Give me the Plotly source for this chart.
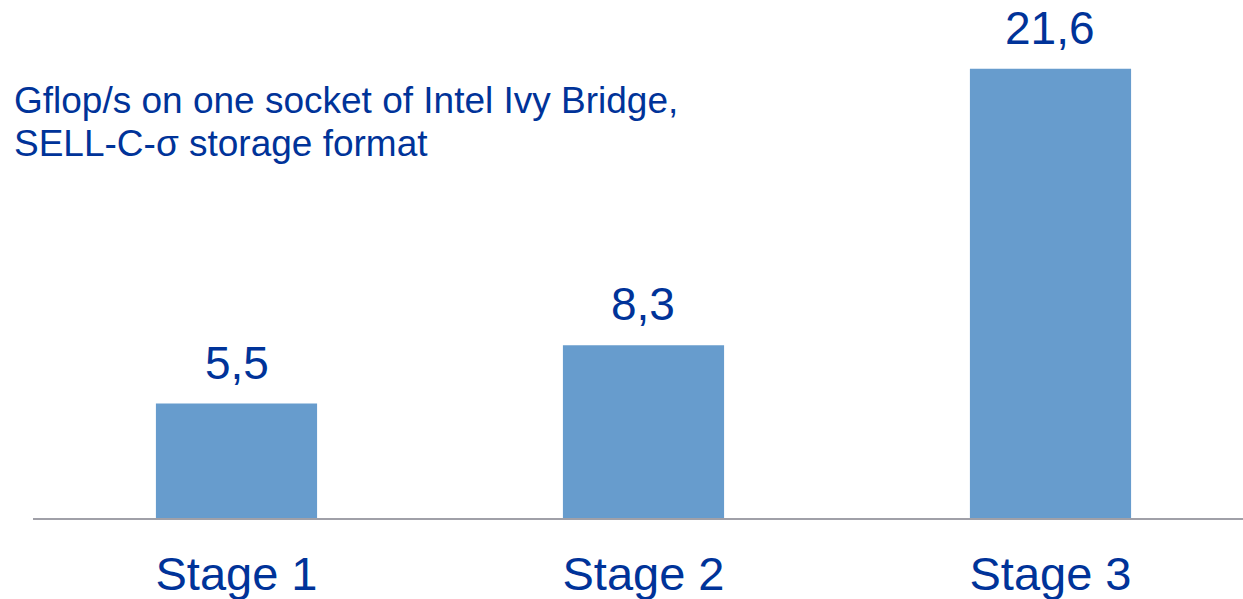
import plotly.graph_objects as go

# Sparse matrix-vector performance by optimization stage
stages = ["Stage 1", "Stage 2", "Stage 3"]
gflops = [5.5, 8.3, 21.6]
title_lines = ["Gflop/s on one socket of Intel Ivy Bridge,", "SELL-C-σ storage format"]

TEXT = "#003399"
BAR = "#679CCD"
FONT = "Liberation Sans, Arial, sans-serif"

fig = go.Figure(
    go.Bar(
        x=stages,
        y=gflops,
        marker=dict(color=BAR, line=dict(width=0)),
        width=0.396,
        hoverinfo="skip",
    )
)

# value labels above the bars, decimal comma
for s, v in zip(stages, gflops):
    fig.add_annotation(
        x=s, y=v, text=f"{v:.1f}".replace(".", ","),
        showarrow=False, yanchor="bottom", yshift=13,
        font=dict(family=FONT, size=46, color=TEXT),
    )

# two-line caption in the upper left
for i, line in enumerate(title_lines):
    fig.add_annotation(
        xref="paper", yref="paper", x=-0.0174, y=1 - (78 + 43 * i) / 518,
        xanchor="left", yanchor="top", text=line, showarrow=False,
        font=dict(family=FONT, size=37, color=TEXT),
    )

fig.update_layout(
    width=1243, height=599,
    margin=dict(l=33, r=0, t=0, b=81, autoexpand=False),
    paper_bgcolor="white", plot_bgcolor="white",
    showlegend=False,
    xaxis=dict(
        range=[-0.5, 2.473],
        showgrid=False, zeroline=False, automargin=False,
        showline=True, linecolor="#A0A0A8", linewidth=2,
        ticks="", ticklabelstandoff=14,
        tickfont=dict(family=FONT, size=47, color=TEXT),
    ),
    yaxis=dict(
        range=[0, 518 / 20.8],
        visible=False, showgrid=False, zeroline=False, automargin=False,
    ),
)

fig.write_html("out.html")
